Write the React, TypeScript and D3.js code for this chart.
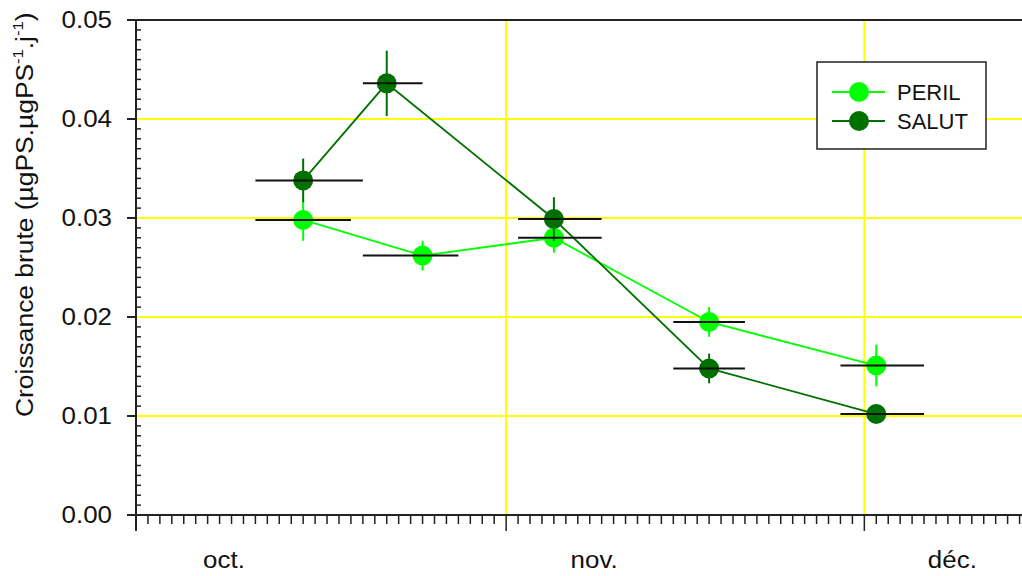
import React, { useEffect, useRef } from 'react';
import * as d3 from 'd3';

// sampling dates (centre of each incubation period) and period bounds
const perilDates = ['1999-10-15', '1999-10-25', '1999-11-05', '1999-11-18', '1999-12-02'];
const perilFrom = ['1999-10-11', '1999-10-20', '1999-11-02', '1999-11-15', '1999-11-29'];
const perilTo = ['1999-10-19', '1999-10-28', '1999-11-09', '1999-11-21', '1999-12-06'];
const perilValues = [0.0298, 0.0262, 0.0280, 0.0195, 0.0151];
const perilErrors = [0.0021, 0.0015, 0.0015, 0.0015, 0.0021];

const salutDates = ['1999-10-15', '1999-10-22', '1999-11-05', '1999-11-18', '1999-12-02'];
const salutFrom = ['1999-10-11', '1999-10-20', '1999-11-02', '1999-11-15', '1999-11-29'];
const salutTo = ['1999-10-20', '1999-10-25', '1999-11-09', '1999-11-21', '1999-12-06'];
const salutValues = [0.0338, 0.0436, 0.0299, 0.0148, 0.0102];
const salutErrors = [0.0022, 0.0033, 0.0022, 0.0015, 0.0003];

const monthLabels = ['oct.', 'nov.', 'déc.'];
const yTicks = [0, 0.01, 0.02, 0.03, 0.04, 0.05];

const FONT = 'Liberation Sans, Arial, Helvetica, sans-serif';

const App = () => {
  const svgRef = useRef<SVGSVGElement>(null);

  useEffect(() => {
    const width = 1022;
    const height = 576;
    const left = 136;
    const top = 20;
    const bottom = 515;

    d3.select(svgRef.current).selectAll('*').remove();
    const svg = d3.select(svgRef.current)
      .attr('width', width)
      .attr('height', height);

    const parse = d3.utcParse('%Y-%m-%d');
    const start = parse('1999-10-01') as Date;
    const end = parse('1999-12-15') as Date;

    const x = d3.scaleUtc().domain([start, end]).range([left, left + 75 * 11.94]);
    const y = d3.scaleLinear().domain([0, 0.05]).range([bottom, top]);

    const months = d3.utcMonth.range(start, end);

    // grid
    const grid = svg.append('g').attr('stroke', '#ffff00').attr('stroke-width', 2);
    grid.selectAll('.hg')
      .data(yTicks.filter(d => d > 0 && d < 0.05))
      .enter()
      .append('line')
      .attr('x1', left)
      .attr('x2', width)
      .attr('y1', d => y(d))
      .attr('y2', d => y(d));
    grid.selectAll('.vg')
      .data(months.slice(1))
      .enter()
      .append('line')
      .attr('x1', d => x(d))
      .attr('x2', d => x(d))
      .attr('y1', top)
      .attr('y2', bottom);

    // axes
    const axis = svg.append('g').attr('stroke', '#222').attr('stroke-width', 2).attr('fill', 'none');
    axis.append('line').attr('x1', left).attr('x2', left).attr('y1', top - 1).attr('y2', 531);
    axis.append('line').attr('x1', 127).attr('x2', width).attr('y1', bottom).attr('y2', bottom);
    axis.append('line').attr('x1', 127).attr('x2', width).attr('y1', top).attr('y2', top);

    // y major ticks
    axis.selectAll('.ymaj')
      .data(yTicks)
      .enter()
      .append('line')
      .attr('x1', 127)
      .attr('x2', left)
      .attr('y1', d => y(d))
      .attr('y2', d => y(d));

    // y minor ticks
    const yMinor = d3.range(1, 50).filter(i => i % 10 !== 0).map(i => i / 1000);
    axis.selectAll('.ymin')
      .data(yMinor)
      .enter()
      .append('line')
      .attr('stroke-width', 1.5)
      .attr('x1', left)
      .attr('x2', left + 5)
      .attr('y1', d => y(d))
      .attr('y2', d => y(d));

    // x ticks (daily minor, monthly major)
    const days = d3.utcDay.range(start, d3.utcDay.offset(end, 1));
    axis.selectAll('.xmin')
      .data(days)
      .enter()
      .append('line')
      .attr('stroke-width', 1.5)
      .attr('x1', d => x(d))
      .attr('x2', d => x(d))
      .attr('y1', bottom)
      .attr('y2', d => (d.getUTCDate() === 1 ? 531 : 524));

    // tick labels (slightly wide lettering, as in the original)
    svg.append('g')
      .selectAll('text')
      .data(yTicks)
      .enter()
      .append('text')
      .attr('transform', d => `translate(112,${y(d)}) scale(1.08,1)`)
      .attr('dy', '0.35em')
      .attr('text-anchor', 'end')
      .style('font-family', FONT)
      .style('font-size', '24px')
      .style('fill', '#111')
      .text(d => d.toFixed(2));

    svg.append('g')
      .selectAll('text')
      .data(months)
      .enter()
      .append('text')
      .attr('transform', d => `translate(${x(d) + 88},568) scale(1.08,1)`)
      .attr('text-anchor', 'middle')
      .style('font-family', FONT)
      .style('font-size', '24px')
      .style('fill', '#111')
      .text((d, i) => monthLabels[i]);

    // y axis title
    const title = svg.append('text')
      .attr('transform', 'translate(33,417) rotate(-90) scale(1.1,1)')
      .style('font-family', FONT)
      .style('font-size', '24px')
      .style('fill', '#111');
    title.append('tspan').text('Croissance brute (µgPS.µgPS');
    title.append('tspan').attr('dy', -10).style('font-size', '15px').text('-1');
    title.append('tspan').attr('dy', 10).text('.j');
    title.append('tspan').attr('dy', -10).style('font-size', '15px').text('-1');
    title.append('tspan').attr('dy', 10).text(')');

    // series
    const series = [
      { name: 'PERIL', color: '#00ff00', dates: perilDates, from: perilFrom, to: perilTo, values: perilValues, errors: perilErrors },
      { name: 'SALUT', color: '#007000', dates: salutDates, from: salutFrom, to: salutTo, values: salutValues, errors: salutErrors },
    ];

    const line = d3.line<[Date, number]>().x(d => x(d[0])).y(d => y(d[1]));

    series.forEach(s => {
      const pts = s.dates.map((d, i) => ({
        date: parse(d) as Date,
        v: s.values[i],
        e: s.errors[i],
      }));
      const g = svg.append('g');
      g.append('path')
        .datum(pts.map(p => [p.date, p.v] as [Date, number]))
        .attr('d', line)
        .attr('fill', 'none')
        .attr('stroke', s.color)
        .attr('stroke-width', 1.8);
      g.selectAll('.err')
        .data(pts)
        .enter()
        .append('line')
        .attr('x1', p => x(p.date))
        .attr('x2', p => x(p.date))
        .attr('y1', p => y(p.v - p.e))
        .attr('y2', p => y(p.v + p.e))
        .attr('stroke', s.color)
        .attr('stroke-width', 2);
      g.selectAll('circle')
        .data(pts)
        .enter()
        .append('circle')
        .attr('cx', p => x(p.date))
        .attr('cy', p => y(p.v))
        .attr('r', 10)
        .attr('fill', s.color);
    });

    // horizontal bars: incubation periods
    series.forEach(s => {
      svg.append('g')
        .selectAll('line')
        .data(s.values.map((v, i) => ({ v, from: parse(s.from[i]) as Date, to: parse(s.to[i]) as Date })))
        .enter()
        .append('line')
        .attr('x1', p => x(p.from))
        .attr('x2', p => x(p.to))
        .attr('y1', p => y(p.v))
        .attr('y2', p => y(p.v))
        .attr('stroke', '#111')
        .attr('stroke-width', 2);
    });

    // legend
    const legend = svg.append('g');
    legend.append('rect')
      .attr('x', 817)
      .attr('y', 62)
      .attr('width', 169)
      .attr('height', 87)
      .attr('fill', 'white')
      .attr('stroke', '#222')
      .attr('stroke-width', 1.5);
    series.forEach((s, i) => {
      const ly = 92 + i * 29;
      legend.append('line')
        .attr('x1', 832)
        .attr('x2', 885)
        .attr('y1', ly)
        .attr('y2', ly)
        .attr('stroke', s.color)
        .attr('stroke-width', 1.8);
      legend.append('circle').attr('cx', 859).attr('cy', ly).attr('r', 10).attr('fill', s.color);
      legend.append('text')
        .attr('x', 897)
        .attr('y', ly)
        .attr('dy', '0.35em')
        .style('font-family', FONT)
        .style('font-size', '22px')
        .style('fill', '#111')
        .text(s.name);
    });
  }, []);

  return (
    <svg ref={svgRef} style={{ position: 'absolute', left: 0, top: 0, background: 'white' }}></svg>
  );
};

export default App;
